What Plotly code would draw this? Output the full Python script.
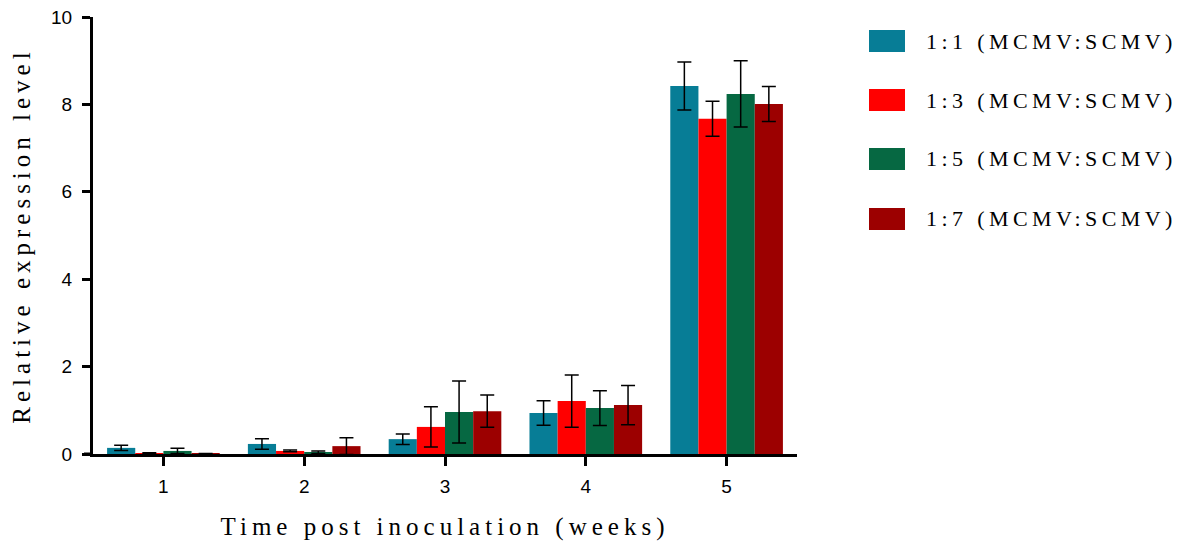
import plotly.graph_objects as go

weeks = ["1", "2", "3", "4", "5"]
series_names = ["1:1 (MCMV:SCMV)", "1:3 (MCMV:SCMV)", "1:5 (MCMV:SCMV)", "1:7 (MCMV:SCMV)"]
vals_11 = [0.14, 0.23, 0.34, 0.94, 8.42]
vals_13 = [0.02, 0.07, 0.62, 1.21, 7.67]
vals_15 = [0.07, 0.04, 0.96, 1.05, 8.24]
vals_17 = [0.01, 0.18, 0.98, 1.12, 8.01]
err_11 = [0.06, 0.12, 0.12, 0.28, 0.55]
err_13 = [0.01, 0.02, 0.46, 0.60, 0.40]
err_15 = [0.06, 0.03, 0.71, 0.40, 0.76]
err_17 = [0.00, 0.19, 0.37, 0.45, 0.40]
colors = ["#077D96", "#FF0000", "#066842", "#9C0000"]
y_ticks = [0, 2, 4, 6, 8, 10]

values = [vals_11, vals_13, vals_15, vals_17]
errors = [err_11, err_13, err_15, err_17]

W, H = 1183, 546
L, R, T, B = 93, 797, 17, 454
pw, ph = R - L, B - T

def px_x(p):
    return (p - L) / pw

def px_y(p):
    return (B - p) / ph

def spaced(s, sp):
    return f"<span style='letter-spacing:{sp}px'>{s}</span>"

fig = go.Figure()
for name, v, e, c in zip(series_names, values, errors, colors):
    fig.add_trace(go.Bar(
        x=weeks, y=v, name=name, marker=dict(color=c, line=dict(width=0)),
        error_y=dict(type="data", array=e, visible=True, color="black",
                     thickness=1.5, width=7),
        showlegend=False,
    ))

shapes = [
    # small extension of the x-axis line to the left of the y-axis
    dict(type="line", xref="paper", yref="paper", x0=px_x(84), x1=0,
         y0=0, y1=0, line=dict(color="black", width=3)),
]
annotations = []
row_centers = [41, 100, 159, 219]
for name, c, rc in zip(series_names, colors, row_centers):
    shapes.append(dict(type="rect", xref="paper", yref="paper",
                       x0=px_x(869), x1=px_x(905), y0=px_y(rc + 11), y1=px_y(rc - 11),
                       fillcolor=c, line=dict(width=0)))
    annotations.append(dict(xref="paper", yref="paper", x=px_x(924), y=px_y(rc),
                            xanchor="left", yanchor="middle", showarrow=False,
                            text=spaced(name, 4.4),
                            font=dict(family="Liberation Serif", size=22, color="black")))

fig.update_layout(
    width=W, height=H,
    margin=dict(l=L, r=W - R, t=T, b=H - B),
    paper_bgcolor="white", plot_bgcolor="white",
    barmode="group", bargap=0.2, bargroupgap=0,
    shapes=shapes, annotations=annotations,
    font=dict(family="Liberation Sans", color="black"),
)
fig.update_xaxes(
    type="category", range=[-0.5, 4.5],
    showline=True, linecolor="black", linewidth=3,
    ticks="outside", ticklen=9, tickwidth=2.5, tickcolor="black",
    tickfont=dict(family="Liberation Sans", size=19, color="black"),
    ticklabelstandoff=4,
    showgrid=False, zeroline=False,
    title=dict(text=spaced("Time post inoculation (weeks)", 5),
               font=dict(family="Liberation Serif", size=25, color="black"), standoff=22),
    automargin=False,
)
fig.update_yaxes(
    range=[0, 10], tickvals=y_ticks,
    showline=True, linecolor="black", linewidth=3,
    ticks="outside", ticklen=8, tickwidth=2.5, tickcolor="black",
    tickfont=dict(family="Liberation Sans", size=19, color="black"),
    ticklabelstandoff=6,
    showgrid=False, zeroline=False,
    title=dict(text=spaced("Relative expression level", 5),
               font=dict(family="Liberation Serif", size=25, color="black"), standoff=14),
    automargin=False,
)
fig.write_html("out.html")
